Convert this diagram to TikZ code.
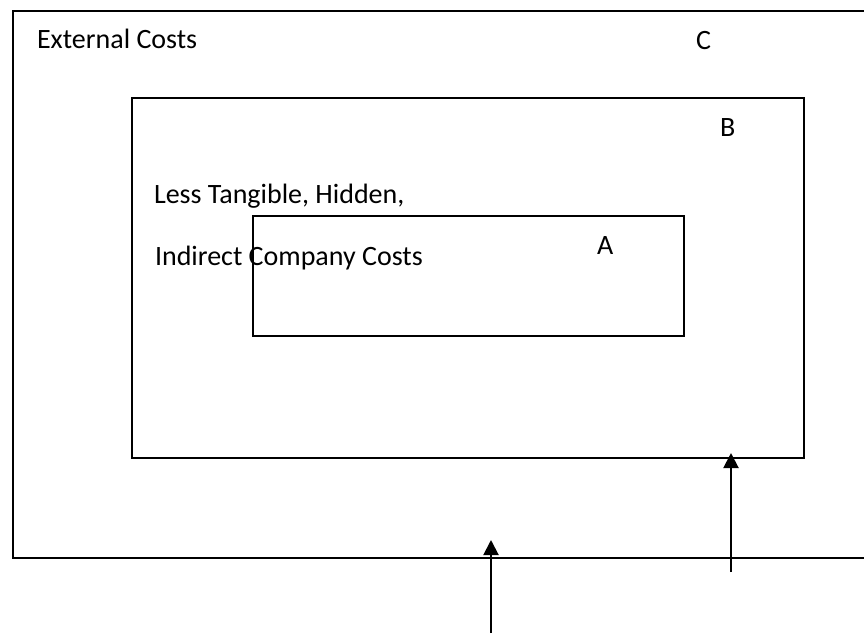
\documentclass[tikz,border=0pt]{standalone}
\usepackage{fontspec}
\setmainfont{Carlito}
\usetikzlibrary{arrows.meta}

\begin{document}
\begin{tikzpicture}
  [
  x=1pt, y=-1pt, line width=2pt, draw=black,
  costbox/.style={rectangle, draw=black, inner sep=0pt, anchor=north west},
  costtext/.style={anchor=base west, inner sep=0pt, font=\fontsize{28}{32}\selectfont},
  pointer/.style={-{Triangle[length=15pt, width=15pt]}}
  ]
\useasboundingbox (0,0) rectangle (864,633);

% outer box, open to the right
\draw (864,11) -| (13,558) -- (864,558);
\node[costbox, minimum width=672pt, minimum height=360pt] (boxB) at (131,97) {};
\node[costbox, minimum width=431pt, minimum height=120pt] (boxA) at (252,215) {};

\node[costtext] (extC) at (36,48) {External Costs};
\node[costtext] (letC) at (695,49) {C};
\node[costtext] (letB) at (719,136) {B};
\node[costtext] (less) at (153,203) {Less Tangible, Hidden,};
\node[costtext] (indir) at (154,265) {Indirect Company Costs};
\node[costtext] (letA) at (596,254) {A};

\coordinate (tailC) at (491,633);
\coordinate (tipC) at (491,540);
\coordinate (tailB) at (731,572);
\coordinate (tipB) at (731,453);
\draw[pointer] (tailC) -- (tipC);
\draw[pointer] (tailB) -- (tipB);

\end{tikzpicture}
\end{document}
